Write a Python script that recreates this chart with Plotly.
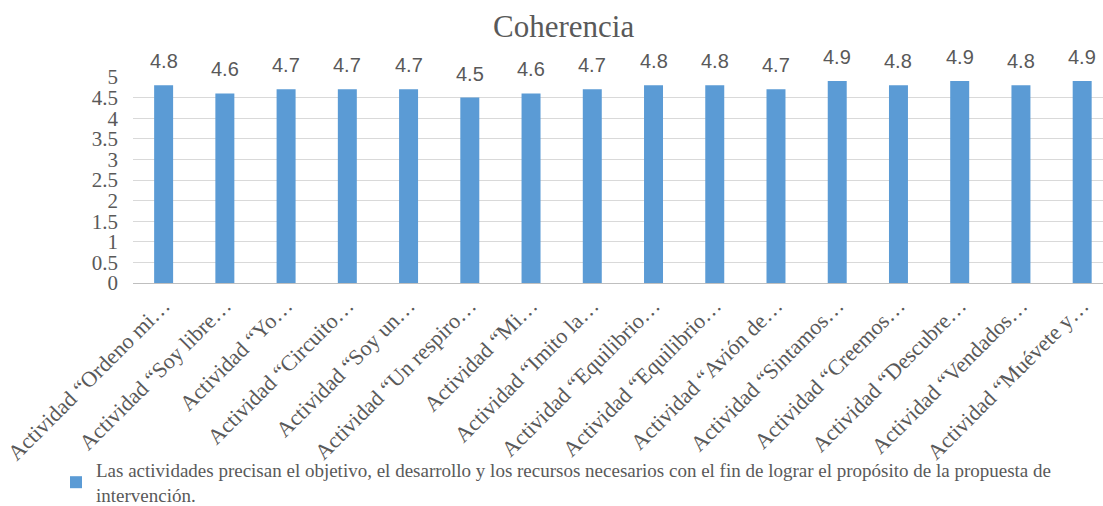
import plotly.graph_objects as go

categories = [
    "Actividad “Ordeno mi…",
    "Actividad “Soy libre…",
    "Actividad “Yo…",
    "Actividad “Circuito…",
    "Actividad “Soy un…",
    "Actividad “Un respiro…",
    "Actividad “Mi…",
    "Actividad “Imito la…",
    "Actividad “Equilibrio…",
    "Actividad “Equilibrio…",
    "Actividad “Avión de…",
    "Actividad “Sintamos…",
    "Actividad “Creemos…",
    "Actividad “Descubre…",
    "Actividad “Vendados…",
    "Actividad “Muévete y…",
]
values = [4.8, 4.6, 4.7, 4.7, 4.7, 4.5, 4.6, 4.7, 4.8, 4.8, 4.7, 4.9, 4.8, 4.9, 4.8, 4.9]
series_name = ("Las actividades precisan el objetivo, el desarrollo y los recursos necesarios con el fin de lograr el propósito de la propuesta de<br>"
               "intervención.")
title_text = "Coherencia"
y_ticks = [0, 0.5, 1, 1.5, 2, 2.5, 3, 3.5, 4, 4.5, 5]

positions = list(range(len(categories)))
GRAY = "#595959"
SERIF = "Liberation Serif, Times New Roman, serif"

fig = go.Figure()
fig.add_trace(go.Bar(
    x=positions,
    y=values,
    width=0.31,
    name=series_name,
    marker=dict(color="#5B9BD5", line=dict(width=0)),
    showlegend=True,
))

for p, v in zip(positions, values):
    fig.add_annotation(
        x=p, y=v, xref="x", yref="y",
        text=f"{v:.1f}",
        showarrow=False,
        yanchor="bottom",
        yshift=11,
        font=dict(family="Liberation Sans, Arial, sans-serif", size=20, color=GRAY),
    )

fig.update_layout(
    width=1103,
    height=506,
    margin=dict(l=133, r=0, t=77, b=223, autoexpand=False),
    paper_bgcolor="white",
    plot_bgcolor="white",
    title=dict(
        text=title_text,
        font=dict(family=SERIF, size=31, color=GRAY),
        x=0.511, xref="container", xanchor="center",
        y=1 - 26 / 506, yref="container", yanchor="middle",
    ),
    xaxis=dict(
        range=[-0.5, 15.34],
        tickmode="array",
        tickvals=positions,
        ticktext=categories,
        tickangle=-45,
        tickfont=dict(family=SERIF, size=22, color=GRAY),
        showgrid=False,
        showline=True,
        linecolor="#BFBFBF",
        linewidth=1,
        ticks="",
        zeroline=False,
        automargin=False,
    ),
    yaxis=dict(
        range=[0, 5],
        tickmode="array",
        tickvals=y_ticks,
        tickfont=dict(family=SERIF, size=21, color=GRAY),
        showgrid=True,
        gridcolor="#D9D9D9",
        gridwidth=1,
        zeroline=False,
        ticks="",
        ticklabelstandoff=14,
        automargin=False,
    ),
    showlegend=True,
    legend=dict(
        orientation="h",
        xref="container", yref="container",
        x=56 / 1103, xanchor="left",
        y=1 - 451 / 506, yanchor="top",
        font=dict(family=SERIF, size=19, color=GRAY),
        bgcolor="rgba(0,0,0,0)",
    ),
    bargap=0.69,
)

fig.write_html("out.html")
